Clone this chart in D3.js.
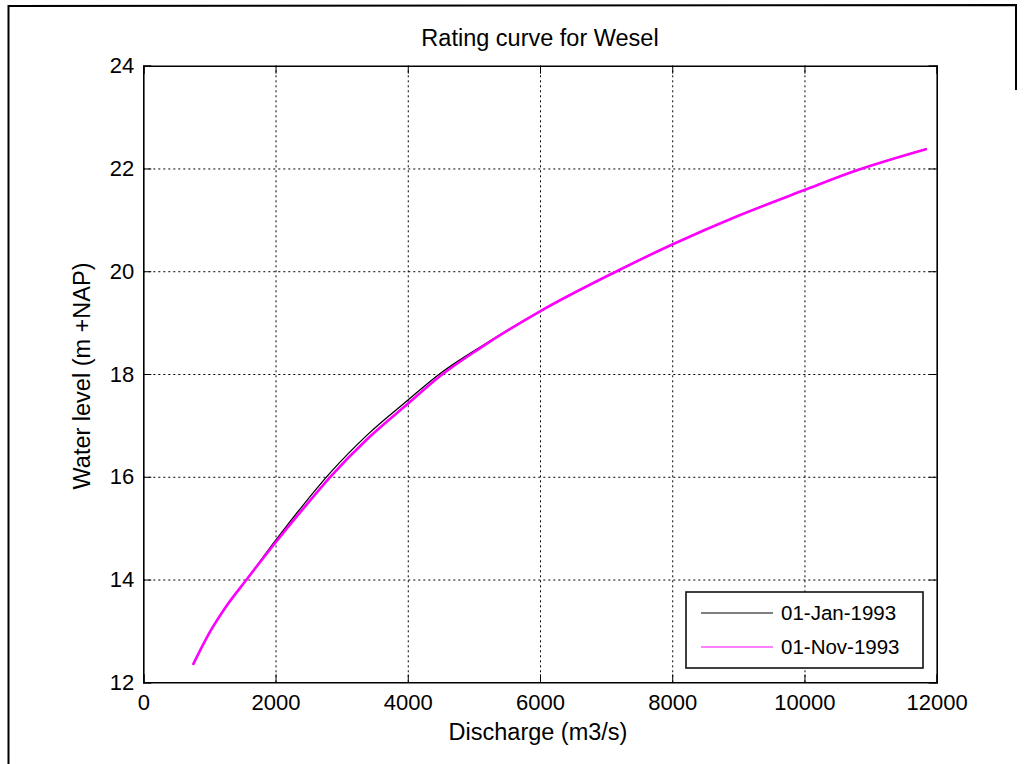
<!DOCTYPE html>
<html>
<head>
<meta charset="utf-8">
<script src="https://cdn.jsdelivr.net/npm/d3@7"></script>
<style>
	body { margin: 0; background: #fff; }
	text { font-family: "Liberation Sans", Arial, Helvetica, sans-serif; fill: #000; }
</style>
</head>
<body>
<div id="chart"></div>
<script>
// Datos
const discharge = [751, 1008, 1250, 1563, 2000, 2400, 2822, 3400, 4000, 4500, 5089, 6000, 7160, 8000, 9000, 10000, 10760, 11850];
const levelJan = [12.34, 12.98, 13.47, 14.0, 14.76, 15.42, 16.07, 16.83, 17.49, 18.02, 18.52, 19.22, 20.0, 20.52, 21.08, 21.58, 21.95, 22.38];
const levelNov = [12.34, 12.98, 13.47, 14.0, 14.72, 15.35, 15.99, 16.75, 17.42, 17.97, 18.5, 19.22, 20.0, 20.52, 21.08, 21.58, 21.95, 22.38];
const seriesNames = ['01-Jan-1993', '01-Nov-1993'];
const seriesColors = ['#000000', '#ff00ff'];
const xTicks = [0, 2000, 4000, 6000, 8000, 10000, 12000];
const yTicks = [12, 14, 16, 18, 20, 22, 24];

// Configuración del gráfico
const W = 1030;
const H = 764;
const margin = { top: 65.7, right: 93.3, bottom: 81.7, left: 143.3 };
const width = W - margin.left - margin.right;
const height = H - margin.top - margin.bottom;

const root = d3.select('#chart').append('svg').attr('width', W).attr('height', H);

// marco exterior
root.append('path')
	.attr('d', `M8.5,${H} L8.5,6 L1016,5 L1016,90`)
	.attr('fill', 'none')
	.attr('stroke', '#000')
	.attr('stroke-width', 2);

const svg = root.append('g').attr('transform', `translate(${margin.left},${margin.top})`);

// Escalas
const x = d3.scaleLinear().domain([0, 12000]).range([0, width]);
const y = d3.scaleLinear().domain([12, 24]).range([height, 0]);

// rejilla punteada
const gridX = svg.append('g')
	.attr('transform', `translate(0,${height})`)
	.call(d3.axisBottom(x).tickValues(xTicks.slice(1, -1)).tickSize(-height).tickFormat(''));
const gridY = svg.append('g')
	.call(d3.axisLeft(y).tickValues(yTicks.slice(1, -1)).tickSize(-width).tickFormat(''));
[gridX, gridY].forEach((g) => {
	g.select('.domain').remove();
	g.selectAll('line').attr('stroke', '#000').attr('stroke-width', 1).attr('stroke-dasharray', '2,3');
});

// Curvas
const lineGen = (vals) => d3.line()
	.x((d, i) => x(discharge[i]))
	.y((d) => y(d))
	.curve(d3.curveMonotoneX)(vals);

svg.append('path')
	.attr('d', lineGen(levelJan))
	.attr('fill', 'none')
	.attr('stroke', seriesColors[0])
	.attr('stroke-width', 1.3);

svg.append('path')
	.attr('d', lineGen(levelNov))
	.attr('fill', 'none')
	.attr('stroke', seriesColors[1])
	.attr('stroke-width', 2.6);

// Ejes con marcas hacia dentro
const tickFont = '22px';
const axB = svg.append('g')
	.attr('transform', `translate(0,${height})`)
	.call(d3.axisBottom(x).tickValues(xTicks).tickSize(-8).tickPadding(12).tickFormat(d3.format('d')));
const axL = svg.append('g')
	.call(d3.axisLeft(y).tickValues(yTicks).tickSize(-8).tickPadding(9));
const axT = svg.append('g')
	.call(d3.axisTop(x).tickValues(xTicks).tickSize(-8).tickFormat(''));
const axR = svg.append('g')
	.attr('transform', `translate(${width},0)`)
	.call(d3.axisRight(y).tickValues(yTicks).tickSize(-8).tickFormat(''));
[axB, axL, axT, axR].forEach((g) => {
	g.select('.domain').attr('stroke', '#000').attr('stroke-width', 1.6);
	g.selectAll('line').attr('stroke', '#000').attr('stroke-width', 1);
	g.selectAll('text').style('font-size', tickFont).attr('fill', '#000');
});

// Leyenda
const legend = svg.append('g').attr('transform', `translate(${686 - margin.left},${592 - margin.top})`);
legend.append('rect')
	.attr('x', 0).attr('y', 0)
	.attr('width', 237).attr('height', 76)
	.attr('fill', '#fff')
	.attr('stroke', '#111')
	.attr('stroke-width', 1.6);
seriesNames.forEach((name, i) => {
	const ly = 21 + i * 34;
	legend.append('line')
		.attr('x1', 15).attr('x2', 87)
		.attr('y1', ly).attr('y2', ly)
		.attr('stroke', seriesColors[i])
		.attr('stroke-width', 1.2);
	legend.append('text')
		.attr('x', 95).attr('y', ly)
		.attr('dy', '0.36em')
		.style('font-size', '20.5px')
		.text(name);
});

// Títulos
root.append('text')
	.attr('x', margin.left + width / 2)
	.attr('y', 46)
	.attr('text-anchor', 'middle')
	.style('font-size', '23.5px')
	.text('Rating curve for Wesel');

root.append('text')
	.attr('x', margin.left + width / 2 - 2)
	.attr('y', 740)
	.attr('text-anchor', 'middle')
	.style('font-size', '23.5px')
	.text('Discharge (m3/s)');

root.append('text')
	.attr('transform', `translate(89.5,${margin.top + height / 2 + 2}) rotate(-90)`)
	.attr('text-anchor', 'middle')
	.style('font-size', '23.5px')
	.text('Water level (m +NAP)');
</script>
</body>
</html>
